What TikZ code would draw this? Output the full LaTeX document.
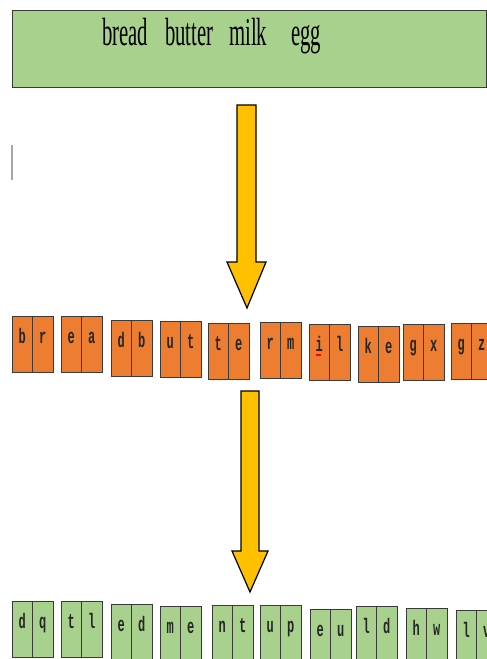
\documentclass[tikz,border=0pt]{standalone}
\usepackage{fontspec}
\setmainfont{Liberation Serif}
\newfontfamily\letterfont{Liberation Mono}
\usetikzlibrary{positioning}

\definecolor{boxgreen}{HTML}{A9D18E}
\definecolor{boxorange}{HTML}{ED7D31}
\definecolor{arrowgold}{HTML}{FFC000}
\definecolor{edgegray}{HTML}{3A3A3A}

% tall, narrow lettering
\newcommand{\tall}[2][1.9]{\scalebox{1}[#1]{#2}}

\begin{document}
\begin{tikzpicture}[x=1pt,y=-1pt,
  word/.style={anchor=base west,inner sep=0,font=\fontsize{20.7}{22}\selectfont},
  cell/.style={draw=edgegray,line width=1pt,minimum width=20.5pt,inner sep=0,outer sep=0,
    text height=27pt,text depth=29pt,text=black!85,
    font=\letterfont\bfseries\fontsize{12}{14}\selectfont},
  bigarrow/.style={draw=black,line width=1.2pt,fill=arrowgold,line join=miter}]
  \useasboundingbox (0,0) rectangle (487,659);
  \clip (0,0) rectangle (487,659);

  % shopping list
  \node[draw=edgegray,line width=1.3pt,fill=boxgreen,anchor=north west,
    minimum width=474pt,minimum height=77pt,inner sep=0] (basket) at (12,10) {};
  \node[word] (w1) at (102,45) {\tall{bread}};
  \node[word] (w2) at (165,45) {\tall{butter}};
  \node[word] (w3) at (229,45) {\tall{milk}};
  \node[word] (w4) at (291,45) {\tall{egg}};

  % cursor
  \fill[gray!70] (11,145) rectangle (13,180);

  % plaintext pairs
  \foreach \x/\y/\p/\q [count=\i] in {12/316/b/r,61/316/e/a,111/320/d/b,160/321/u/t,
      208/323/t/e,260/322/r/m,309/324/i/l,358/326/k/e,403/324/g/x,451/323/g/z} {
    \node[cell,fill=boxorange,anchor=north west] (o\i-a) at (\x,\y) {\tall[1.75]{\p}};
    \node[cell,fill=boxorange,anchor=west] (o\i-b) at (o\i-a.east) {\tall[1.75]{\q}};
  }
  \draw[red,line width=1.2pt] (316,355) -- (321,355);

  % ciphertext pairs
  \foreach \x/\y/\p/\q [count=\i] in {12/601/d/q,61/601/t/l,111/604/e/d,160/606/m/e,
      212/605/n/t,260/605/u/p,310/609/e/u,356/606/l/d,406/608/h/w,456/610/l/v} {
    \node[cell,fill=boxgreen,anchor=north west] (g\i-a) at (\x,\y) {\tall[1.75]{\p}};
    \node[cell,fill=boxgreen,anchor=west] (g\i-b) at (g\i-a.east) {\tall[1.75]{\q}};
  }

  % block arrows
  \draw[bigarrow] (237,105) -- (256,105) -- (256,262) -- (266,262) -- (247,308)
    -- (227,262) -- (237,262) -- cycle;
  \draw[bigarrow] (241,391) -- (259,391) -- (259,551) -- (268,551) -- (250,592)
    -- (232,551) -- (241,551) -- cycle;
\end{tikzpicture}
\end{document}
